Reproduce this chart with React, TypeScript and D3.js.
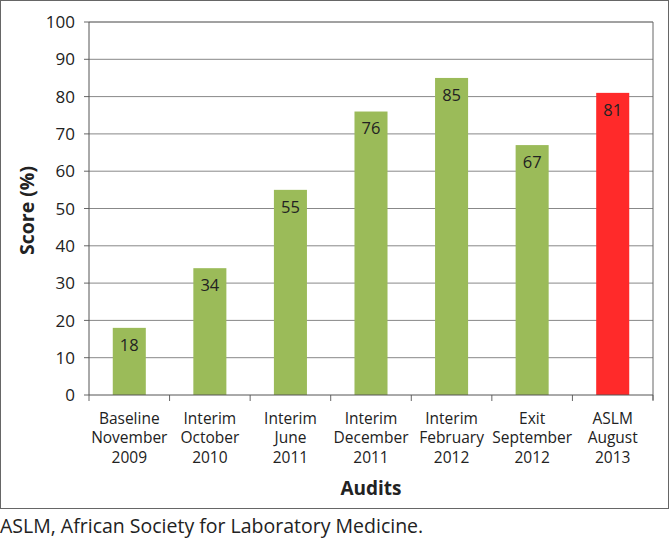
import React from 'react';
import * as d3 from 'd3';

const categories = [
  ['Baseline', 'November', '2009'],
  ['Interim', 'October', '2010'],
  ['Interim', 'June', '2011'],
  ['Interim', 'December', '2011'],
  ['Interim', 'February', '2012'],
  ['Exit', 'September', '2012'],
  ['ASLM', 'August', '2013'],
];
const scores = [18, 34, 55, 76, 85, 67, 81];
const yTicks = [0, 10, 20, 30, 40, 50, 60, 70, 80, 90, 100];

const font = "'Open Sans', sans-serif";

const App = () => {
  const left = 89;
  const right = 653;
  const top = 22;
  const bottom = 395;

  const keys = categories.map((c) => c.join(' '));
  const x = d3.scaleBand().domain(keys).range([left, right]).paddingInner(0.59).paddingOuter(0.295);
  const band = d3.scaleBand().domain(keys).range([left, right]);
  const y = d3.scaleLinear().domain([0, 100]).range([bottom, top]);

  return (
    <svg width={670} height={538} style={{ position: 'absolute', left: 0, top: 0, fontFamily: font }}>
      <rect x={0.5} y={0.5} width={668} height={508} fill="#fff" stroke="#666" />
      {yTicks.map((t) => (
        <g key={t}>
          {t > 0 && t < 100 && <line x1={left} x2={right} y1={y(t)} y2={y(t)} stroke="#888" strokeWidth={1} />}
          <line x1={left - 5} x2={left} y1={y(t)} y2={y(t)} stroke="#666" />
          <text x={left - 14} y={y(t)} dy="0.36em" textAnchor="end" fontSize={17} fill="#222">{t}</text>
        </g>
      ))}
      <line x1={left} x2={right} y1={top} y2={top} stroke="#444" />
      <line x1={right} x2={right} y1={top} y2={bottom + 5} stroke="#666" />
      {categories.map((c, i) => {
        const cx = band(keys[i])! + band.bandwidth() / 2;
        return (
          <g key={keys[i]}>
            <rect x={x(keys[i])} y={y(scores[i])} width={x.bandwidth()} height={bottom - y(scores[i])}
              fill={i === categories.length - 1 ? '#FF2A2A' : '#9BBB59'} />
            <text x={x(keys[i])! + x.bandwidth() / 2} y={y(scores[i]) + 17} dy="0.36em" textAnchor="middle"
              fontSize={16.5} fill="#222">{scores[i]}</text>
            <text y={418 + 15.5 * 0.36} textAnchor="middle" fontSize={15.5} fill="#222">
              {c.map((line, j) => (
                <tspan key={j} x={cx} dy={j === 0 ? 0 : 19.5}>{line}</tspan>
              ))}
            </text>
          </g>
        );
      })}
      {[0, ...keys.map((k) => band(k)! + band.bandwidth())].map((v, i) => (
        <line key={i} x1={i === 0 ? left : v} x2={i === 0 ? left : v} y1={bottom} y2={bottom + 6} stroke="#666" />
      ))}
      <line x1={left} x2={left} y1={top} y2={bottom} stroke="#555" />
      <line x1={left} x2={right} y1={bottom} y2={bottom} stroke="#555" />
      <text transform={`translate(27,${(top + bottom) / 2 + 2}) rotate(-90)`} textAnchor="middle" dy="0.36em"
        fontSize={19.5} fontWeight="bold" fill="#222">Score (%)</text>
      <text x={(left + right) / 2} y={488} textAnchor="middle" dy="0.36em" fontSize={19} fontWeight="bold" fill="#222">Audits</text>
      <text x={0} y={532.5} fontSize={19.5} fill="#222">ASLM, African Society for Laboratory Medicine.</text>
    </svg>
  );
};

export default App;
